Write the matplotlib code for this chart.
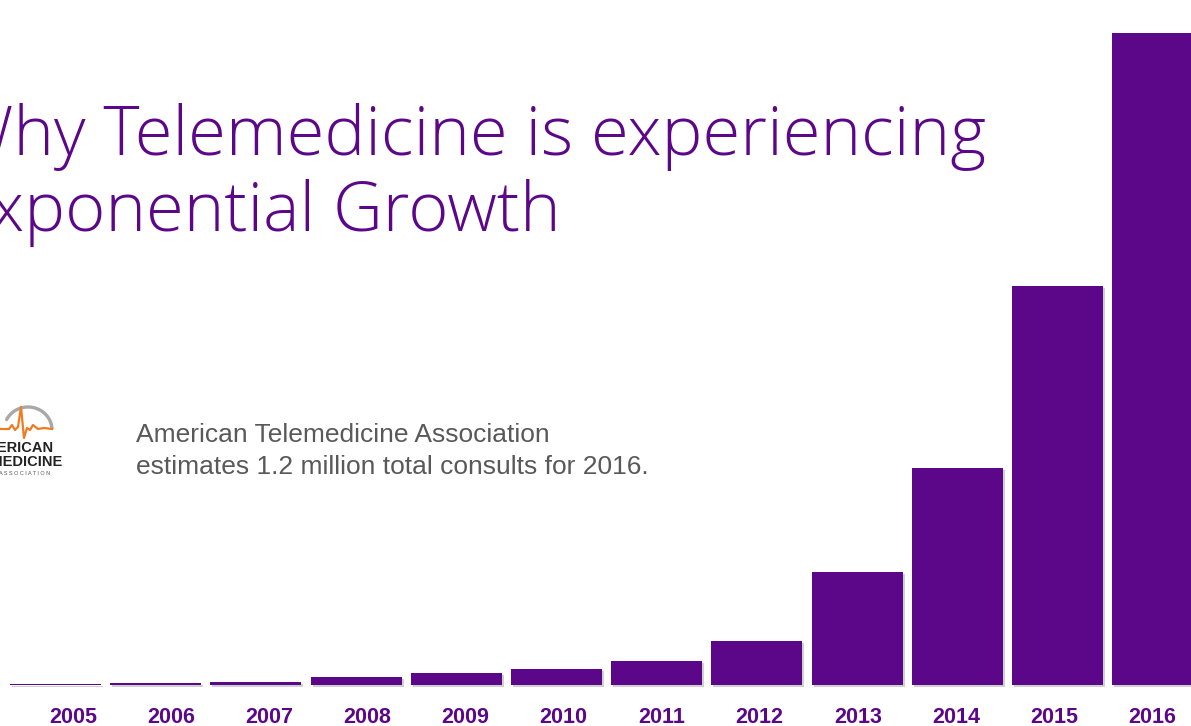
import matplotlib
matplotlib.use("Agg")
import matplotlib.pyplot as plt
import matplotlib.patheffects as pe
import numpy as np

# Telemedicine consults per year (estimates)
years = ["2005", "2006", "2007", "2008", "2009", "2010",
         "2011", "2012", "2013", "2014", "2015", "2016"]
consults = [2000, 3000, 6000, 15000, 23000, 29000,
            44000, 81000, 208000, 400000, 734000, 1200000]

PURPLE = "#5c0789"
GRAY = "#595959"
W, H = 1191, 726

fig = plt.figure(figsize=(W / 100, H / 100), dpi=100)
fig.patch.set_facecolor("white")

# axes spans the full width; baseline at y=685 px from top, 2016 top at 33 px
base_px, top_px = 685, 33
ax = fig.add_axes([0, (H - base_px) / H, 1, (base_px - top_px) / H])
step_px, first_px = 100.2, 55.5
ax.set_xlim(-first_px / step_px, (W - first_px) / step_px)
ax.set_ylim(0, max(consults))
ax.axis("off")

x = np.arange(len(years))
bars = ax.bar(x, consults, width=91 / step_px, color=PURPLE, clip_on=False)
for b in bars:
    b.set_path_effects([pe.SimplePatchShadow(offset=(1.5, -1.5), shadow_rgbFace="#777777", alpha=0.35),
                        pe.Normal()])

# year labels beneath the bars
for i, yr in enumerate(years):
    fig.text((73 + 98.1 * i) / W, 1 - 723 / H, yr, ha="center", va="baseline",
             fontsize=15.5, fontweight="bold", color=PURPLE, family="Liberation Sans")

# slide title, running off the left edge
title_kw = dict(fontsize=49.5, color=PURPLE, family="Open Sans", fontweight="light",
                ha="left", va="baseline")
fig.text(-48 / W, 1 - 155 / H, "Why Telemedicine is experiencing", **title_kw)
fig.text(-48 / W, 1 - 231 / H, "Exponential Growth", **title_kw)

# note
note_kw = dict(fontsize=19, color=GRAY, family="Liberation Sans", ha="left", va="baseline")
fig.text(136 / W, 1 - 442 / H, "American Telemedicine Association", **note_kw)
fig.text(136 / W, 1 - 474 / H, "estimates 1.2 million total consults for 2016.", **note_kw)

# association logo (cut at the left edge)
lax = fig.add_axes([0, 0, 1, 1], zorder=-1)
lax.set_xlim(0, W)
lax.set_ylim(H, 0)
lax.axis("off")
th = np.linspace(np.pi * 0.02, np.pi * 0.85, 60)
lax.plot(28 + 24 * np.cos(th), 430 - 23 * np.sin(th), color="#a8a8a8", lw=2.4,
         solid_capstyle="round")
ecg_x = [0, 9, 12, 15, 18, 21, 24, 27, 30, 33, 38, 44, 52]
ecg_y = [429, 429, 425, 430, 427, 407, 438, 428, 430, 425, 429, 428, 429]
lax.plot(ecg_x, ecg_y, color="#f07c21", lw=1.6)
logo_kw = dict(ha="right", va="baseline", fontsize=10.5, fontweight="bold",
               color="#222222", family="Liberation Sans")
lax.text(54, 452, "AMERICAN", **logo_kw)
lax.text(63, 466, "TELEMEDICINE", **logo_kw)
lax.text(50, 475, "A S S O C I A T I O N", ha="right", va="baseline", fontsize=4,
         color="#555555", family="Liberation Sans")

fig.savefig("out.png", dpi=100, facecolor="white")
